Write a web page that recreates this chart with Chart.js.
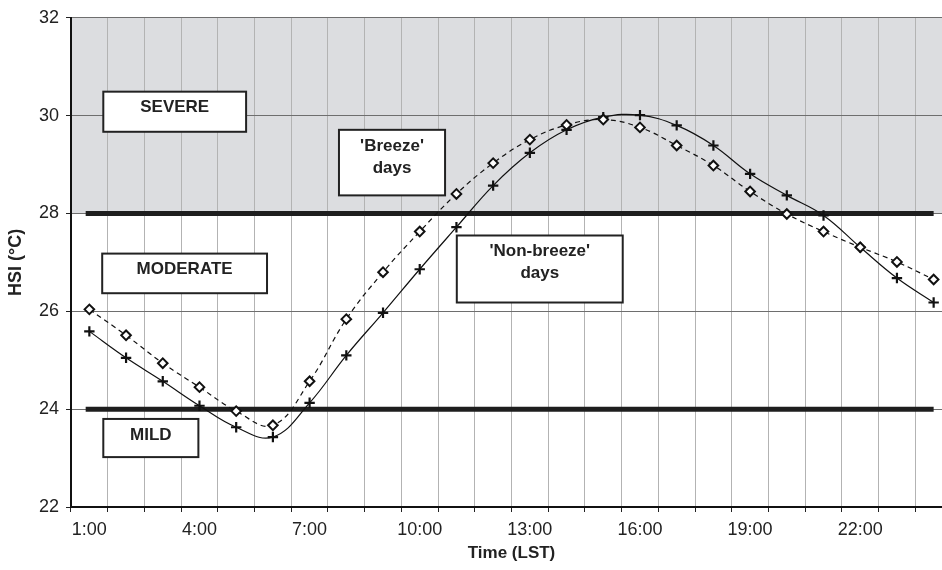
<!DOCTYPE html>
<html><head><meta charset="utf-8">
<script src="https://cdn.jsdelivr.net/npm/chart.js@4.4.1/dist/chart.umd.min.js"></script>
<style>
html,body{margin:0;padding:0;background:#fff;overflow:hidden;width:942px;height:570px}
#wrap{position:relative;width:960px;height:570px}
</style>
</head><body>
<div id="wrap"><canvas id="c" width="960" height="570"></canvas></div>
<script>
// ---- data ----
const hours = ['1:00','2:00','3:00','4:00','5:00','6:00','7:00','8:00','9:00','10:00','11:00','12:00',
               '13:00','14:00','15:00','16:00','17:00','18:00','19:00','20:00','21:00','22:00','23:00','24:00'];
const breeze = [26.04,25.51,24.94,24.45,23.96,23.67,24.57,25.84,26.80,27.63,28.40,29.03,
                29.51,29.81,29.92,29.76,29.39,28.98,28.45,27.99,27.63,27.31,27.01,26.65];
const nonBreeze = [25.59,25.05,24.57,24.07,23.63,23.43,24.13,25.10,25.97,26.86,27.72,28.57,
                   29.24,29.71,29.97,30.01,29.80,29.39,28.81,28.37,27.96,27.31,26.68,26.18];
const yTickValues = [22,24,26,28,30,32];
const thresholds = [24, 28];
const severeFrom = 28;
const zoneLabels = [['SEVERE'],['MODERATE'],['MILD'],["'Breeze'",'days'],["'Non-breeze'",'days']];

// ---- annotation layout (in scale units: category index / HSI value) ----
const boxLayout = [
  {x0:0.38, x1:4.27, y0:30.49, y1:29.67},
  {x0:0.35, x1:4.84, y0:27.18, y1:26.37},
  {x0:0.38, x1:2.97, y0:23.80, y1:23.02},
  {x0:6.80, x1:9.69, y0:29.71, y1:28.37},
  {x0:10.01, x1:14.53, y0:27.55, y1:26.18}
];

const FONT = "'Liberation Sans', Arial, Helvetica, sans-serif";
Chart.defaults.font.family = FONT;
Chart.defaults.color = '#222';

const decor = {
  id: 'decor',
  beforeDraw(chart) {
    const {ctx, chartArea: a, scales: {y}} = chart;
    const top = y.getPixelForValue(y.max), bot = y.getPixelForValue(severeFrom);
    ctx.save();
    ctx.fillStyle = '#dcdde0';
    ctx.fillRect(a.left, top, a.right - a.left, bot - top);
    ctx.restore();
  },
  beforeDatasetsDraw(chart) {
    const {ctx, scales: {x, y}} = chart;
    ctx.save();
    ctx.strokeStyle = '#1e1e1e';
    ctx.lineWidth = 5;
    ctx.lineCap = 'butt';
    thresholds.forEach(t => {
      const py = y.getPixelForValue(t);
      ctx.beginPath();
      ctx.moveTo(x.getPixelForValue(-0.1), py);
      ctx.lineTo(x.getPixelForValue(hours.length - 1), py);
      ctx.stroke();
    });
    boxLayout.forEach((b, i) => {
      const l = x.getPixelForValue(b.x0), r = x.getPixelForValue(b.x1);
      const t = y.getPixelForValue(b.y0), bt = y.getPixelForValue(b.y1);
      ctx.fillStyle = '#fff';
      ctx.fillRect(l, t, r - l, bt - t);
      ctx.lineWidth = 2;
      ctx.strokeStyle = '#222';
      ctx.strokeRect(l, t, r - l, bt - t);
      ctx.fillStyle = '#222';
      ctx.font = 'bold 17px ' + FONT;
      ctx.textAlign = 'center';
      ctx.textBaseline = 'middle';
      zoneLabels[i].forEach((txt, k) => ctx.fillText(txt, (l + r) / 2, t + 16 + k * 22));
    });
    ctx.restore();
  }
};

new Chart(document.getElementById('c'), {
  type: 'line',
  data: {
    labels: hours,
    datasets: [
      {
        label: "'Breeze' days", data: breeze,
        borderColor: '#111', borderWidth: 1.2, borderDash: [5, 4], tension: 0.4,
        pointStyle: 'rectRot', pointRadius: 4.8, pointBorderWidth: 2,
        pointBackgroundColor: '#fff', pointBorderColor: '#111'
      },
      {
        label: "'Non-breeze' days", data: nonBreeze,
        borderColor: '#111', borderWidth: 1.2, tension: 0.4,
        pointStyle: 'cross', pointRadius: 5.2, pointBorderWidth: 2.2,
        pointBorderColor: '#111', pointBackgroundColor: '#111'
      }
    ]
  },
  options: {
    responsive: false, animation: false,
    layout: {padding: {top: 17, right: 8, left: 0, bottom: 0}},
    plugins: {legend: {display: false}, tooltip: {enabled: false}},
    scales: {
      x: {
        type: 'category', offset: true,
        grid: {offset: true, color: '#b3b3b3', lineWidth: 1, tickColor: '#222', tickLength: 5},
        border: {color: '#111', width: 2},
        ticks: {
          autoSkip: false, maxRotation: 0, minRotation: 0, padding: 7,
          font: {size: 18}, color: '#222',
          callback: function(v, i) { return i % 3 === 0 ? this.getLabelForValue(v) : ''; }
        },
        title: {display: true, text: 'Time (LST)', color: '#222',
                font: {size: 17, weight: 'bold'}, padding: {top: 0, bottom: 6}},
        afterFit(s) { s.height = 63; }
      },
      y: {
        min: 22, max: 32,
        afterBuildTicks(s) { s.ticks = yTickValues.map(v => ({value: v})); },
        grid: {color: '#6e6e6e', lineWidth: 1, tickColor: '#222', tickLength: 5},
        border: {color: '#111', width: 2},
        ticks: {padding: 7, font: {size: 18}, color: '#222'},
        title: {display: true, text: 'HSI (°C)', color: '#222',
                font: {size: 18, weight: 'bold'}, padding: {top: 5, bottom: 0}},
        afterFit(s) { s.width = 71; }
      }
    }
  },
  plugins: [decor]
});
</script>
</body></html>
